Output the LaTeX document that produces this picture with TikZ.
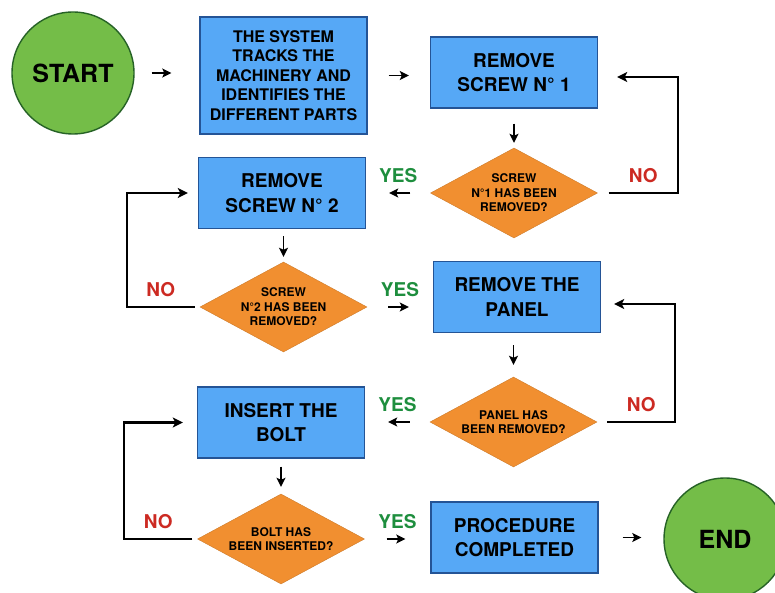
\documentclass[tikz,border=0pt]{standalone}
\usepackage{fontspec}
\setmainfont{TeX Gyre Heros}
\usepackage{tikz}
\usetikzlibrary{shapes.geometric, arrows.meta, positioning, calc}
\definecolor{startgreen}{RGB}{116, 189, 72}
\definecolor{startedge}{RGB}{38, 98, 38}
\definecolor{stepblue}{RGB}{86, 168, 246}
\definecolor{stepedge}{RGB}{36, 84, 150}
\definecolor{askorange}{RGB}{241, 143, 48}
\definecolor{yesgreen}{RGB}{30, 142, 62}
\definecolor{nored}{RGB}{204, 42, 34}

\begin{document}
\begin{tikzpicture}[x=1pt, y=-1pt,
  terminal/.style={circle, draw=startedge, line width=1.4pt, fill=startgreen, minimum size=122pt, inner sep=0pt, font=\fontsize{25}{30}\selectfont\bfseries},
  stepbox/.style={rectangle, draw=stepedge, line width=1.4pt, fill=stepblue, minimum width=167pt, minimum height=71pt, inner sep=0pt, align=center, font=\fontsize{19}{24.5}\selectfont\bfseries},
  decision/.style={diamond, fill=askorange, draw=askorange!85!black, line width=0.4pt, minimum width=167pt, minimum height=90pt, aspect=1.85, inner sep=0pt, align=center, font=\fontsize{12}{14.5}\selectfont\bfseries},
  flow/.style={-{Stealth[length=9pt, width=9pt, inset=2pt]}, line width=1.8pt},
  noloop/.style={-{Stealth[length=10pt, width=10pt, inset=2.5pt]}, line width=2.2pt},
  yeslabel/.style={text=yesgreen, font=\fontsize{19}{22}\selectfont\bfseries, above=9pt, inner sep=0pt},
  nolabel/.style={text=nored, font=\fontsize{19}{22}\selectfont\bfseries, above=9pt, inner sep=0pt},
]
  \useasboundingbox (0, 0) rectangle (775, 593);
  \clip (0, 0) rectangle (775, 593);

  % Steps of the procedure
  \node[terminal] (start) at (73, 73) {START};
  \node[stepbox, minimum height=117pt, font=\fontsize{16}{19.4}\selectfont\bfseries] (track) at (283.5, 75.5) {THE SYSTEM\\TRACKS THE\\MACHINERY AND\\IDENTIFIES THE\\DIFFERENT PARTS};
  \node[stepbox] (screwa) at (514, 72.5) {REMOVE\\SCREW N° 1};
  \node[decision] (aska) at (514, 193) {SCREW\\N°1 HAS BEEN\\REMOVED?};
  \node[stepbox] (screwb) at (282, 193) {REMOVE\\SCREW N° 2};
  \node[decision] (askb) at (283.5, 307) {SCREW\\N°2 HAS BEEN\\REMOVED?};
  \node[stepbox] (panel) at (517, 297) {REMOVE THE\\PANEL};
  \node[decision] (askc) at (513.5, 422) {PANEL HAS\\BEEN REMOVED?};
  \node[stepbox] (bolt) at (281, 422.5) {INSERT THE\\BOLT};
  \node[decision] (askd) at (281, 539) {BOLT HAS\\BEEN INSERTED?};
  \node[stepbox] (done) at (514.5, 537.5) {PROCEDURE\\COMPLETED};
  \node[terminal] (finish) at (725, 539) {END};

  % Forward arrows
  \draw[flow, shorten <=17pt, shorten >=28pt] (start.east) -- (start.east -| track.west);
  \draw[flow, shorten <=21pt, shorten >=21pt] (track.east) -- (track.east -| screwa.west);
  \draw[flow, shorten <=15pt, shorten >=5pt] (screwa.south) -- (aska.north);
  \draw[flow, shorten <=20pt, shorten >=23pt] (aska.west) -- node[yeslabel] {YES} (screwb.east);
  \draw[flow, shorten <=7pt, shorten >=5pt] (screwb.south -| askb.north) -- (askb.north);
  \draw[flow, shorten <=21pt, shorten >=24pt] (askb.east) -- node[yeslabel] {YES} (askb.east -| panel.west);
  \draw[flow, shorten <=12pt, shorten >=12pt] (panel.south -| askc.north) -- (askc.north);
  \draw[flow, shorten <=20pt, shorten >=23pt] (askc.west) -- node[yeslabel] {YES} (askc.west -| bolt.east);
  \draw[flow, shorten <=8pt, shorten >=7pt] (bolt.south) -- (askd.north);
  \draw[flow, shorten <=22pt, shorten >=25pt] (askd.east) -- node[yeslabel] {YES} (askd.east -| done.west);
  \draw[flow, shorten <=24pt, shorten >=22pt] (done.east) -- (done.east -| finish.west);

  % Loops back when the step failed
  \draw[noloop] ([xshift=11pt]aska.east) -- node[nolabel] {NO} ([xshift=80pt]aska.east) |- ([xshift=19pt, yshift=-4.5pt]screwa.east);
  \draw[noloop] ([xshift=-5pt]askb.west) -- node[nolabel] {NO} ([xshift=-73pt]askb.west) |- ([xshift=-10pt]screwb.west);
  \draw[noloop] ([xshift=10pt]askc.east) -- node[nolabel] {NO} ([xshift=78pt]askc.east) |- ([xshift=13pt, yshift=-7pt]panel.east);
  \draw[noloop] ([xshift=-5pt]askd.west) -- node[nolabel] {NO} ([xshift=-73pt]askd.west) |- ([xshift=-14pt]bolt.west);
\end{tikzpicture}
\end{document}
